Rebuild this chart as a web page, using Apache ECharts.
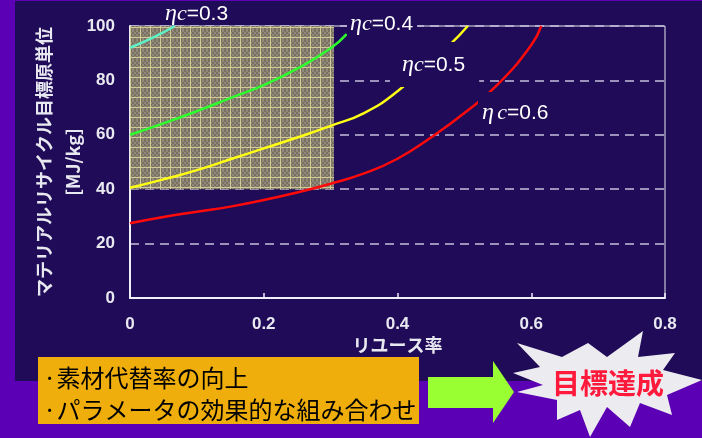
<!DOCTYPE html>
<html>
<head>
<meta charset="utf-8">
<script src="https://cdn.jsdelivr.net/npm/echarts@6/dist/echarts.min.js"></script>
<style>
  html, body { margin: 0; padding: 0; background: #5b00b5; }
  #chart { width: 702px; height: 438px; }
</style>
</head>
<body>
<div id="chart"></div>
<script type="text/javascript">
// リユース率 (x) と 目標原単位 (y) — 各 ηc の曲線
var eta03X = [0, 0.035, 0.067];
var eta03Y = [92, 95.8, 100];
var eta04X = [0, 0.05, 0.1, 0.15, 0.2, 0.25, 0.3, 0.324];
var eta04Y = [60, 64.2, 68.7, 73.5, 78.3, 84.3, 91.8, 97];
var eta05X = [0, 0.05, 0.1, 0.15, 0.2, 0.25, 0.3, 0.35, 0.4, 0.45, 0.48, 0.505];
var eta05Y = [40.5, 43.6, 47, 51, 55, 59, 63.3, 68, 76, 87, 93.5, 100];
var eta06X = [0, 0.05, 0.1, 0.15, 0.2, 0.25, 0.3, 0.35, 0.4, 0.45, 0.5, 0.55, 0.6, 0.615];
var eta06Y = [27.5, 29.8, 31.7, 33.6, 36, 38.8, 42, 45.8, 51.2, 59, 68, 78.5, 93, 100];

// 目標領域 (ハッチ部)
var targetX = [0, 0.305];
var targetY = [40, 100];

var xTicks = { min: 0, max: 0.8, interval: 0.2 };
var yTicks = { min: 0, max: 100, interval: 20 };

function zip(xs, ys) {
    return xs.map(function (x, i) { return [x, ys[i]]; });
}

// ハッチ模様
function makeHatch() {
    var c = document.createElement('canvas');
    c.width = 10; c.height = 10;
    var g = c.getContext('2d');
    g.fillStyle = '#857d6d';
    g.fillRect(0, 0, 10, 10);
    for (var i = 0; i < 10; i += 2) {
        for (var j = 0; j < 10; j += 2) {
            g.fillStyle = ((i + j) / 2) % 2 ? '#918979' : '#787060';
            g.fillRect(i, j, 2, 2);
        }
    }
    g.fillStyle = '#d2cb94';
    g.fillRect(0, 0, 1, 10);
    g.fillRect(0, 7, 10, 1);
    return c;
}

var jp = 'Noto Sans CJK JP';
var panel = '#1f0b57';
var labelColor = '#e8e8f0';

function etaLabel(val, x, y, pad, gap) {
    return {
        type: 'text', x: x, y: y, z: 50,
        style: {
            text: '{e|η}' + (gap ? ' ' : '') + '{c|c}{v|=' + val + '}',
            rich: {
                e: { fontFamily: 'Liberation Serif', fontStyle: 'italic', fontSize: 24, fill: '#fff' },
                c: { fontFamily: 'Liberation Serif', fontStyle: 'italic', fontSize: 22, fill: '#fff' },
                v: { fontFamily: 'Liberation Sans', fontSize: 21, fill: '#fff' }
            },
            fill: '#fff',
            backgroundColor: pad ? panel : null,
            padding: pad || 0
        }
    };
}

function lineSeries(name, data, color) {
    return {
        name: name, type: 'line', data: data, smooth: true, showSymbol: false,
        symbol: 'none', z: 5,
        lineStyle: { color: color, width: 2.5 }
    };
}

var chart = echarts.init(document.getElementById('chart'));
var option = {
    backgroundColor: '#5b00b5',
    animation: false,
    grid: {
        left: 130, right: 37, top: 26, bottom: 140,
        show: true, borderColor: '#e8e8f0', borderWidth: 1, backgroundColor: 'transparent'
    },
    xAxis: {
        type: 'value', min: xTicks.min, max: xTicks.max, interval: xTicks.interval,
        name: 'リユース率', nameLocation: 'middle', nameGap: 38, nameMoveOverlap: false,
        nameTextStyle: { color: labelColor, fontSize: 18, fontWeight: 'bold', fontFamily: jp },
        axisLine: { lineStyle: { color: '#f0f0f8', width: 2 } },
        axisTick: { show: true, inside: true, length: 5, lineStyle: { color: '#f0f0f8', width: 1.5 } },
        axisLabel: { color: labelColor, fontSize: 17, fontWeight: 'bold', fontFamily: 'Liberation Sans', margin: 18 },
        splitLine: { show: false }
    },
    yAxis: {
        type: 'value', min: yTicks.min, max: yTicks.max, interval: yTicks.interval,
        name: 'マテリアルリサイクル目標原単位\n[MJ/kg]', nameLocation: 'middle', nameRotate: 90,
        nameGap: 42, nameMoveOverlap: false,
        nameTextStyle: { color: labelColor, fontSize: 18, fontWeight: 'bold', fontFamily: jp, lineHeight: 29 },
        axisLine: { show: true, lineStyle: { color: '#f0f0f8', width: 2 } },
        axisTick: { show: false },
        axisLabel: { color: labelColor, fontSize: 17, fontWeight: 'bold', fontFamily: 'Liberation Sans', margin: 15 },
        splitLine: { show: true, lineStyle: { color: '#c4c0dc', width: 1.5, type: [9, 6] } }
    },
    series: [
        {
            name: 'target', type: 'line', data: [], z: -2,
            markArea: {
                silent: true,
                itemStyle: { color: { image: makeHatch(), repeat: 'repeat' } },
                data: [[{ coord: [targetX[0], targetY[0]] }, { coord: [targetX[1], targetY[1]] }]]
            }
        },
        lineSeries('ηc=0.6', zip(eta06X, eta06Y), '#ff0a0a'),
        lineSeries('ηc=0.5', zip(eta05X, eta05Y), '#ffff14'),
        lineSeries('ηc=0.4', zip(eta04X, eta04Y), '#2cff2c'),
        lineSeries('ηc=0.3', zip(eta03X, eta03Y), '#5ef2c8')
    ],
    graphic: [
        { type: 'rect', z: -10, shape: { x: 15, y: 1, width: 687, height: 380 }, style: { fill: panel } },
        etaLabel('0.3', 165, 2, null, false),
        etaLabel('0.4', 347, 8, [4, 4, 6, 3], false),
        etaLabel('0.5', 390, 42, [11, 14, 10, 12], false),
        etaLabel('0.6', 478, 92, [9, 4, 5, 4], true),
        { type: 'rect', z: 50, shape: { x: 38, y: 357, width: 381, height: 67 }, style: { fill: '#f0ae0c' } },
        { type: 'text', z: 51, x: 43, y: 378,
          style: { text: '·素材代替率の向上', fontFamily: jp, fontSize: 24, fill: '#000', verticalAlign: 'middle' } },
        { type: 'text', z: 51, x: 43, y: 410,
          style: { text: '·パラメータの効果的な組み合わせ', fontFamily: jp, fontSize: 24, fill: '#000', verticalAlign: 'middle' } },
        { type: 'polygon', z: 50,
          shape: { points: [[428, 377], [493, 377], [493, 361], [514, 392], [493, 423], [493, 408], [428, 408]] },
          style: { fill: '#99ff33' } },
        { type: 'polygon', z: 50,
          shape: { points: [
              [517, 343], [562, 357], [588, 343], [607, 357], [643, 331], [638, 357], [675, 353],
              [663, 370], [702, 380], [667, 395], [672, 415], [640, 403], [630, 427], [607, 407],
              [590, 437], [580, 410], [557, 420], [557, 400], [517, 392], [543, 385], [513, 373], [540, 367]
          ] },
          style: { fill: '#ececf0' } },
        { type: 'text', z: 51, x: 608, y: 383,
          style: { text: '目標達成', fontFamily: jp, fontSize: 28, fontWeight: 'bold', fill: '#ff1a3c',
                   align: 'center', verticalAlign: 'middle' } }
    ]
};
chart.setOption(option);
</script>
</body>
</html>
